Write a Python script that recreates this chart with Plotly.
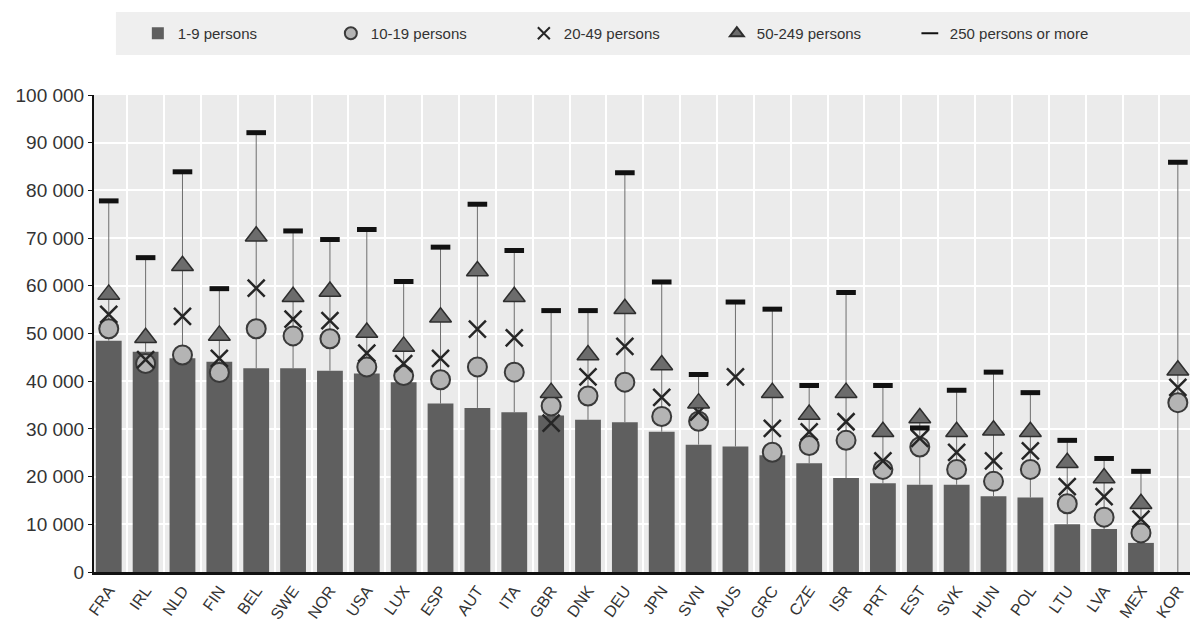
import plotly.graph_objects as go

countries = ["FRA","IRL","NLD","FIN","BEL","SWE","NOR","USA","LUX","ESP","AUT","ITA","GBR","DNK","DEU",
             "JPN","SVN","AUS","GRC","CZE","ISR","PRT","EST","SVK","HUN","POL","LTU","LVA","MEX","KOR"]
s_1_9 =    [48500,46200,44800,44100,42700,42700,42200,41600,39800,35300,34400,33500,32800,31900,31400,
            29400,26700,26300,24500,22800,19700,18600,18300,18300,15900,15600,10000,9000,6100,None]
s_10_19 =  [51000,43700,45500,41800,51000,49500,48900,43000,41200,40300,43000,41900,34800,36900,39800,
            32600,31600,None,25100,26500,27600,21500,26200,21500,19000,21500,14300,11500,8200,35500]
s_20_49 =  [54000,44500,53600,44800,59500,53000,52700,45900,43700,44800,50900,49100,31200,40900,47300,
            36600,33500,40900,30100,29400,31500,23300,28000,25100,23300,25400,17900,15800,11100,38700]
s_50_249 = [58200,49100,64200,49600,70400,57700,58800,50200,47300,53400,63100,57700,37600,45500,55200,
            43400,35400,None,37600,33000,37600,29400,32300,29400,29700,29400,22900,19700,14300,42300]
s_250 =    [77800,65900,83900,59400,92100,71500,69700,71800,60900,68100,77100,67400,54800,54800,83700,
            60800,41400,56600,55100,39100,58600,39100,30200,38100,41900,37600,27600,23800,21100,85900]

legend_names = ["1-9 persons", "10-19 persons", "20-49 persons", "50-249 persons", "250 persons or more"]

FONT = "Liberation Sans Narrow, Arial Narrow, Liberation Sans, Arial, sans-serif"

# range lines from lowest to highest value per country
rx, ry = [], []
for i, c in enumerate(countries):
    vals = [v for v in (s_1_9[i], s_10_19[i], s_20_49[i], s_50_249[i], s_250[i]) if v is not None]
    lo = s_1_9[i] if s_1_9[i] is not None else 0
    rx += [c, c, None]
    ry += [min(vals + [lo]), max(vals), None]

fig = go.Figure()
fig.add_trace(go.Bar(x=countries, y=s_1_9, name=legend_names[0],
                     marker=dict(color="#5f5f5f", line=dict(width=0))))
fig.add_trace(go.Scatter(x=rx, y=ry, mode="lines", showlegend=False, hoverinfo="skip",
                         line=dict(color="#6e6e6e", width=1)))
fig.add_trace(go.Scatter(x=countries, y=s_10_19, mode="markers", name=legend_names[1],
                         marker=dict(symbol="circle", size=19, color="#b4b4b4",
                                     line=dict(color="#3a3a3a", width=2))))
fig.add_trace(go.Scatter(x=countries, y=s_20_49, mode="markers", name=legend_names[2],
                         marker=dict(symbol="x-thin", size=17, color="#262626",
                                     line=dict(color="#262626", width=2.5))))
fig.add_trace(go.Scatter(x=countries, y=s_50_249, mode="markers", name=legend_names[3],
                         marker=dict(symbol="triangle-up", size=19, color="#6c6c6c",
                                     line=dict(color="#2e2e2e", width=1.5))))
fig.add_trace(go.Scatter(x=countries, y=s_250, mode="markers", name=legend_names[4],
                         marker=dict(symbol="line-ew", size=14, color="#111111",
                                     line=dict(color="#111111", width=5))))

fig.add_shape(type="rect", xref="paper", yref="paper", x0=0.02, x1=1.0, y0=1.084, y1=1.174,
              fillcolor="#efefef", line=dict(width=0), layer="below")

fig.update_layout(
    width=1190, height=626,
    margin=dict(l=80, r=8, t=87, b=62),
    paper_bgcolor="white", plot_bgcolor="#ebebeb",
    separators=". ",
    bargap=0.3,
    font=dict(family=FONT, size=15, color="#333333"),
    legend=dict(orientation="h", x=0.04, y=1.129, xanchor="left", yanchor="middle",
                bgcolor="rgba(0,0,0,0)", font=dict(size=15, color="#333333"),
                entrywidth=148, entrywidthmode="pixels", itemsizing="constant"),
    xaxis=dict(type="category", tickangle=-55, showgrid=True, gridcolor="white", gridwidth=2,
               tickson="boundaries", ticks="", showline=True, linecolor="#111111", linewidth=3,
               tickfont=dict(size=16, color="#333333"), range=[-0.4, len(countries) - 0.67]),
    yaxis=dict(range=[0, 100000], dtick=10000, tickformat=",d", showgrid=True, gridcolor="white",
               gridwidth=2, showline=True, linecolor="#111111", linewidth=2, ticks="outside",
               ticklen=4, tickcolor="#111111", zeroline=False,
               tickfont=dict(size=19, color="#333333")),
)

fig.write_html("out.html")
